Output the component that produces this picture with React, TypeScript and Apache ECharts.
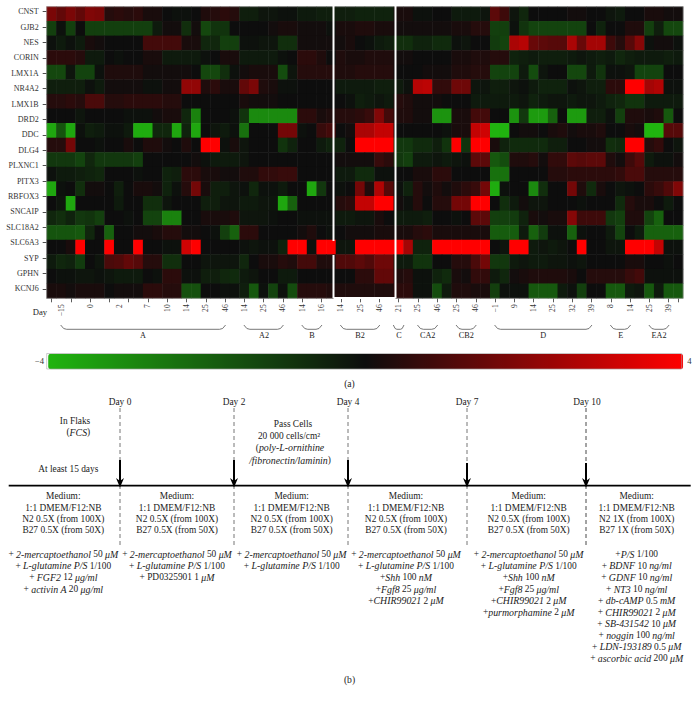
import React, { useEffect, useRef } from "react";
import * as echarts from "echarts";

const SERIF = '"Liberation Serif", serif';

const geneLabels = ["CNST","GJB2","NES","CORIN","LMX1A","NR4A2","LMX1B","DRD2","DDC","DLG4","PLXNC1","PITX3","RBFOX3","SNCAIP","SLC18A2","SLC6A3","SYP","GPHN","KCNJ6"];

const dayAt: Record<number, string> = {1:"−15",4:"0",7:"2",10:"7",12:"10",14:"14",16:"25",18:"46",20:"14",22:"25",24:"46",26:"14",28:"16",30:"14",32:"25",34:"46",36:"21",38:"25",40:"46",42:"25",44:"46",46:"−1",48:"9",50:"14",52:"25",54:"32",56:"39",58:"8",60:"14",62:"25",64:"39"};

const row00 = [1.8,1.4,1.8,1.4,1.9,1.8,.4,.5,.4,.5, .2,.2,0,-.1,-.1,0,.3,.4,.5,.4, -.4,-.4,-.2,-.2,-.1,-.1,-.3,-.3,-.4,-.4, -.4,-.4,-.5,-.5,-.5,-.5,.2,.2,-.1,-.1, 0,0,-.3,-.3,-.3,-.2,1.3,.8,-.2,-.6, 0,0,0,0,.1,.1,0,0,-.2,-.3, 0,0,.2,.2,.1,.1];
const row01 = [-1.2,-.1,-1.2,0,-1.2,-1.2,-1.2,-1.2,-1.2,-1.2, -1.2,-.3,.1,.1,-.8,.1,-1.4,-.9,-.9,0, 0,0,0,.1,.2,.2,.1,.1,.1,-.1, .2,.2,.3,.3,.2,.2,.1,.1,.1,.1, .1,.1,.2,.2,.4,.4,-1.2,-1.2,-.1,-.9, -1.3,-1.3,-1.3,-1.3,-1.3,-1.3,0,-.5,0,0, .3,.3,-1.2,-.4,-1.4,-1.4];
const row02 = [-.1,-.3,-.1,-.3,.2,.1,0,0,0,0, .9,.9,.9,.9,.2,.2,-.6,-.6,-1.2,-1.2, -.1,-.1,-.2,-.2,-.8,-.8,.1,.1,.1,.1, .1,.2,0,-.1,-.3,-.4,-.8,-.8,-.5,-.5, -.7,-.7,-.1,-.2,0,0,-1.1,-1.3,2.6,2.8, 1.5,1.3,1.2,1.2,2.6,1.5,2.5,2.5,.8,.4, 1.2,2,-.1,.1,.1,-.1];
const row03 = [.5,.5,.5,.4,-.3,-.3,0,-.1,0,0, .2,.2,-.3,-.3,-.3,-.3,-.1,0,.2,.2, -.3,-.3,-.3,-.3,-.1,0,.5,.5,.3,0, .3,.2,.2,.3,.3,.3,.1,.1,0,0, 0,0,.2,.2,.3,.3,.4,.4,-.5,-.4, -.3,-.4,-.4,-.4,-.3,-.2,-.3,-.4,-.3,-.6, -.4,-.3,-.3,-.3,-.4,-.3];
const row04 = [-1.4,-1.4,-.2,-1.3,-1.3,-.1,.3,.3,.3,.3, .1,.1,.1,.1,.1,0,-1.4,-1.4,-.8,-.1, .1,.2,.2,.2,-1.5,-.2,.4,.4,.4,.4, .3,.3,.4,.4,.4,.4,0,0,0,.1, .1,.1,.3,.3,.4,.4,-1.3,-1.3,-1.3,-.3, -1.5,-.2,0,0,-1.4,-1.4,-.3,-.9,-.1,-.1, -.2,-1.3,-1.3,-1.3,0,0];
const row05 = [-.4,-.4,-.4,-.4,-.1,-.3,.1,.1,.1,.1, -.1,-.1,.1,.1,2.2,2.2,.3,.5,.2,.2, 1.4,1.8,.3,.2,-.1,-.1,0,0,0,0, -.3,-.3,-.3,-.3,-.4,-.4,-.3,-.1,2.8,2.9, .6,.6,1.6,1.6,-.2,-.2,-.4,-.4,-.2,-.1, -.3,-.5,-.5,-.5,-.1,-.2,-.4,-.4,.5,.5, 4,4,2.5,2.7,-.1,-.1];
const row06 = [.4,.4,.5,.4,1,1,.4,.4,.5,.5, .5,.5,.4,.4,0,0,0,0,0,0, .2,.1,.1,.1,0,0,0,0,0,0, 0,-.1,-.4,-.3,-.2,-.3,.4,.3,.1,.1, .1,0,0,0,-.3,-.3,-.3,-.3,-.3,-.2, -.5,-.3,-.2,-.2,-.3,-.2,-.2,-.3,-.5,-.6, -.9,-.9,-.3,-.3,-.3,-.3];
const row07 = [0,0,0,-.2,0,0,0,0,-.1,-.1, -.1,.1,.2,.2,-.6,-2.8,0,0,0,-.1, -.9,-3,-3,-3,-3,-3,.5,.5,.2,.3, .4,.4,.5,.7,1.9,.9,.3,.3,.1,.1, -3.2,-3.2,.2,.2,.9,.9,0,0,-3.2,-1, -3.4,-3.4,-2,0,-3.4,-3.4,-.4,-.4,-.1,-1.2, .3,.3,.2,.3,-1.8,0];
const row08 = [-3.7,-1.7,-3.7,-.1,-.4,-.3,-.1,-.1,-.3,-3.8, -3.8,-.6,-.6,-3.7,-.5,-3.7,0,-.2,-.3,-.1, -2.4,0,0,0,1.7,1.7,-.1,0,.7,.9, 0,.1,2.6,2.6,3,3,0,0,0,0, 0,-.1,.2,.2,3,3.2,-4,-4,0,.1, .1,0,.2,.3,.1,.2,.2,.3,0,0, .2,.1,-4,-4,1.2,1.2];
const row09 = [.4,.4,1.7,0,0,-.1,0,0,.2,0, .3,.3,.1,0,.3,0,4,4,-.1,.2, -.2,0,0,0,-.9,-.5,0,0,-.3,-.5, -.5,0,4,4,4,4,-1,-1,-.7,-.7, -.4,-.9,4,-.9,4,4,.2,-.5,-.7,-.7, -.7,-.7,-.4,-.4,0,0,.1,.1,-.8,-.7, 4,4,.4,.6,0,-.2];
const row10 = [-1,-1,-1,-1.3,-.6,-1,-1,-1,-1,-1.2, 0,0,0,0,0,.1,-.1,-.3,-.3,-.3, -.2,0,0,0,0,0,0,0,0,0, .1,.1,.1,.1,.7,.5,-1,-1.2,-.3,-.3, -.2,-.3,-.2,-.1,1.3,1.3,-1.8,-1.5,.3,.3, .4,.1,.6,.6,1.3,1.2,1.3,1.3,.3,.1, .8,1.2,-.3,-.1,-.1,.1];
const row11 = [-.1,-.3,-.3,-.4,-.5,-.6,0,0,0,-.1, 0,0,-.5,-.4,.5,.5,.2,.2,.1,.1, .3,.3,.6,.6,.7,.7,0,0,0,0, -.3,-.3,-.7,-.7,-.1,-.1,0,0,.2,.2, .5,.5,0,0,0,0,-2.4,-2.4,0,0, 0,0,.4,.4,.5,.5,.5,.5,.5,.6, 1,1,.4,.4,.4,.4];
const row12 = [-3.7,-.1,0,-.8,.1,.1,0,-.4,0,.2, .2,.1,-.5,-.1,.4,1.7,.2,-.4,-.4,-.2, -.1,-.6,-.1,-.1,-.3,0,0,-3.7,-1,0, -.1,0,1.7,.3,2.7,1.2,-.1,-.5,.4,.1, .3,.1,.3,.5,.7,1.7,-3.8,-.1,0,0, -3,-.8,0,0,1.7,.3,-.7,.2,0,-.2, -.1,0,.5,.7,1.1,1.9];
const row13 = [0,-.2,-3.7,0,0,0,0,-.3,0,0, -.8,-.8,-.2,0,0,0,-.4,-.4,-.2,-.2, -.3,-.3,-.2,-.2,-3.7,-2,0,0,0,0, .4,.5,3,3,4,4,.1,-.1,.4,0, .4,.4,1.7,1.7,4,4,0,-.8,-.3,.1, -.2,-.2,0,0,0,-.1,0,0,0,-.7, .4,.2,.2,0,-.3,0];
const row14 = [-.6,-.8,-.5,-1,-.9,-1.2,0,0,-.1,0, -1.3,-1.3,-2.8,-2.8,0,0,.2,.2,.2,.3, -.2,-.2,-.2,-.1,0,0,-.1,-.1,-.1,-.1, -.3,-.3,-.2,-.2,.2,0,-.3,-.3,-.3,-.4, 0,0,-.1,0,1.3,1.3,-1.2,-1.2,-1.1,-.5, .2,.1,.2,.2,2,.8,.8,.8,-1,-1.2, .3,.3,-1.3,-2,0,0];
const row15 = [-1.7,-1.7,-1.7,-1.8,-.6,0,-2,0,0,.1, .1,.2,.4,.4,.1,.1,0,-.1,-1.2,-2, .5,.5,0,0,0,0,.1,.3,0,-.1, 0,.1,.1,.1,.2,.2,.2,.2,.4,.5, .2,.2,.2,.2,.2,.2,-1.9,-1.9,-1.9,-.3, -2,-1.1,-.1,-.1,-2,-.1,0,0,-.3,-1.3, 0,-.3,-2,-2,-2,-2];
const row16 = [0,0,.2,4,0,0,4,0,0,4, 0,0,-.1,-.1,3.2,4,0,0,0,0, -.1,-.2,-.1,-.1,-.5,4,4,-.1,4,4, -.2,-.2,4,4,4,4,4,2.5,-.5,-.5, 4,4,4,4,4,4,0,-.2,4,4, -.3,-.2,-.3,-.2,0,4,0,0,-.2,-.2, 4,4,4,3,-.1,-.1];
const row17 = [-.3,-.6,-.5,-1.1,0,-.2,1,1.1,1.4,1.2, .4,.4,-.8,-.8,0,0,-.2,-.2,-.2,-.2, -.6,0,.2,.2,.4,.3,.9,.9,.3,.3, 1.1,1.1,1.3,1.1,1.6,1.6,-.3,-.3,-.9,-.9, 0,0,.4,.4,1,1.7,-1,-1,-.3,-.2, -.3,-.3,-.2,-.2,-.1,-.2,0,0,0,0, .2,.2,0,0,-.1,0];
const row18 = [0,-.1,-.1,-.2,-.2,-.1,-.2,-.3,-.3,-.3, 0,-.1,.5,.5,-.1,-.1,-.4,-.4,-.6,-.7, -.3,-.2,0,0,-.3,-.3,0,0,0,0, 0,0,.5,.5,1.4,1.4,.3,.4,-.1,-.1, -.5,-.7,.2,.1,.6,.6,-.3,-.6,.1,.2, .3,.3,.3,.3,.2,0,.4,.4,.4,.4, .7,.9,-.1,-.1,-.1,-.1];
const row19 = [.2,.2,.1,.2,.2,.2,0,.1,.1,.1, .5,.5,.4,.4,-1.6,-1.6,0,0,-.1,-.1, -.4,-1.8,-.1,-1.3,-.1,-1.5,.4,.4,.4,.3, .3,.3,.3,.3,.3,.3,.5,.5,-.1,-.1, -1.5,-.3,.3,.3,.2,.2,-1.2,-.1,-.1,-.1, -1.8,-1.8,-1.8,-.3,-.1,-1.2,0,0,-1.8,-1.8, -.3,-.2,-1.8,-.3,-1.8,-1.8];

const heatRows = [row00,row01,row02,row03,row04,row05,row06,row07,row08,row09,row10,row11,row12,row13,row14,row15,row16,row17,row18,row19];

const groupNames = ["A","A2","B","B2","C","CA2","CB2","D","E","EA2"];
const groupStart = [1,20,26,30,35.5,38,42,46,58,62];
const groupEnd = [18,24,28,34,36.5,40,44,56,60,64];
const groupLabelX = [143,264,312,360,399,427.7,466.3,543.3,620.7,659];

const timelineDays = ["Day 0","Day 2","Day 4","Day 7","Day 10"];
const timelineX = [120,234,348,467,586];
const arrowTop = [460,460,460,463,463];

const mediumX = [63.3,177,291.7,406,528.7,636.7];
const mediumLines = [
  ["Medium:","1:1 DMEM/F12:NB","N2 0.5X (from 100X)","B27 0.5X (from 50X)"],
  ["Medium:","1:1 DMEM/F12:NB","N2 0.5X (from 100X)","B27 0.5X (from 50X)"],
  ["Medium:","1:1 DMEM/F12:NB","N2 0.5X (from 100X)","B27 0.5X (from 50X)"],
  ["Medium:","1:1 DMEM/F12:NB","N2 0.5X (from 100X)","B27 0.5X (from 50X)"],
  ["Medium:","1:1 DMEM/F12:NB","N2 0.5X (from 100X)","B27 0.5X (from 50X)"],
  ["Medium:","1:1 DMEM/F12:NB","N2 1X (from 100X)","B27 1X (from 50X)"],
];
const M = "{i|2-mercaptoethanol} 50 {i|μM}";
const LG = "{i|L-glutamine P/S} 1/100";
const additives = [
  ["+ "+M,"+ "+LG,"+ {i|FGF2} 12 {i|μg/ml}","+ {i|activin A} 20 {i|μg/ml}"],
  ["+ "+M,"+ "+LG,"+ PD0325901 1 {i|μM}"],
  ["+ "+M,"+ "+LG],
  ["+ "+M,"+ "+LG,"+{i|Shh} 100 {i|nM}","+{i|Fgf8} 25 {i|μg/ml}","+{i|CHIR99021} 2 {i|μM}"],
  ["+ "+M,"+ "+LG,"+{i|Shh} 100 {i|nM}","+{i|Fgf8} 25 {i|μg/ml}","+{i|CHIR99021} 2 {i|μM}","+{i|purmorphamine} 2 {i|μM}"],
  ["+{i|P/S} 1/100","+ {i|BDNF} 10 {i|ng/ml}","+ {i|GDNF} 10 {i|ng/ml}","+ {i|NT3} 10 {i|ng/ml}","+ {i|db-cAMP} 0.5 {i|mM}","+ {i|CHIR99021} 2 {i|μM}","+ {i|SB-431542} 10 {i|μM}","+ {i|noggin} 100 {i|ng/ml}","+ {i|LDN-193189} 0.5 {i|μM}","+ {i|ascorbic acid} 200 {i|μM}"],
];

const GRID = { left: 46.7, top: 6.7, width: 636.4, height: 291.6 };

function txt(x: number, y: number, text: string, size = 9.4, extra: any = {}) {
  return {
    type: "text", x, y, silent: true, z: 20,
    style: {
      text, fill: "#222", align: "center", verticalAlign: "middle",
      fontFamily: SERIF, fontSize: size,
      rich: { i: { fontStyle: "italic", fontFamily: SERIF, fontSize: size + 0.5, fill: "#222" } },
      ...extra,
    },
  };
}
const ln = (x1: number, y1: number, x2: number, y2: number, stroke: string, lineWidth: number, lineDash?: number[]) => ({
  type: "line", silent: true, z: 15, shape: { x1, y1, x2, y2 }, style: { stroke, lineWidth, lineDash },
});

function buildGraphics() {
  const out: any[] = [];
  const cell = GRID.width / 66;
  const cx = (k: number) => GRID.left + cell * (k + 0.5);

  // frame of heatmap and legend
  out.push({ type: "rect", silent: true, z: 14, shape: { x: GRID.left, y: GRID.top, width: GRID.width, height: GRID.height }, style: { fill: "none", stroke: "#9a9a9a", lineWidth: 0.6 } });
  out.push({ type: "rect", silent: true, z: 14, shape: { x: 46.7, y: 353.5, width: 635, height: 15.5 }, style: { fill: "none", stroke: "#aaa", lineWidth: 0.6 } });

  // white box around B2
  const wl = 333.5, wr = 395.5, wt = 5, wb = 298;
  out.push(ln(wl, wt, wr, wt, "#fff", 2), ln(wr, wt, wr, wb, "#fff", 2), ln(wl, wb, wr, wb, "#fff", 2));
  out.push(ln(wl, wt, wl, 241, "#fff", 2), ln(wl, 255, wl, wb, "#fff", 2));

  out.push(txt(40, 312, "Day", 8.6));

  groupNames.forEach((name, i) => {
    const a = cx(groupStart[i]) - 0.5, b = cx(groupEnd[i]) + 0.5;
    const m = Math.min(6, (b - a) / 3);
    out.push({
      type: "polyline", silent: true, z: 15,
      shape: { points: [[a, 325], [a + m / 2, 328.5], [a + m, 329.3], [b - m, 329.3], [b - m / 2, 328.5], [b, 325]] },
      style: { stroke: "#555", lineWidth: 0.8, fill: "none" },
    });
    out.push(txt(groupLabelX[i], 335.5, name, 8.2));
  });

  out.push(txt(349.5, 383, "(a)", 9.6), txt(349.5, 679, "(b)", 9.6));

  // timeline
  timelineDays.forEach((d, i) => {
    const x = timelineX[i];
    out.push(txt(x + (i === 4 ? 1 : 0), 401.7, d));
    out.push(ln(x, 408, x, 547, i === 4 ? "#333" : "#666", 0.9, [4, 3]));
    out.push(ln(x, arrowTop[i], x, 482, "#000", 2));
    out.push({ type: "polygon", silent: true, z: 16, shape: { points: [[x - 4, 478], [x, 481], [x + 4, 478], [x, 487.5]] }, style: { fill: "#000" } });
  });
  out.push(ln(8.7, 485.7, 690.7, 485.7, "#000", 1.8));

  out.push(txt(75, 421, "In Flaks"), txt(78.3, 432.3, "({i|FCS})"), txt(68.3, 469, "At least 15 days"));
  out.push(txt(293, 424.3, "Pass Cells"), txt(289, 436, "20 000 cells/cm²"), txt(290, 447.7, "({i|poly-L-ornithine}"), txt(290, 460, "{i|/fibronectin/laminin})"));

  const medY = [496, 507.5, 519, 530];
  const addY = [554, 565.5, 577, 589, 600.5, 612, 623.5, 635, 646.7, 658.3];
  mediumX.forEach((x, i) => {
    mediumLines[i].forEach((t, j) => out.push(txt(x, medY[j], t)));
    additives[i].forEach((t, j) => out.push(txt(x, addY[j], t)));
  });
  return out;
}

export default function App() {
  const ref = useRef<HTMLDivElement>(null);
  useEffect(() => {
    const chart = echarts.init(ref.current!, undefined, { renderer: "svg" });
    const data: number[][] = [];
    heatRows.forEach((r, y) => r.forEach((v, x) => data.push([x, y, v])));
    const columns = Array.from({ length: 66 }, (_, k) => dayAt[k] ?? "");
    const rowIds = heatRows.map((_, i) => "r" + i);
    chart.setOption({
      animation: false,
      backgroundColor: "#fff",
      grid: [
        { ...GRID },
        { left: GRID.left, top: 4, width: GRID.width, height: 292.6 },
      ],
      xAxis: [
        {
          type: "category", gridIndex: 0, data: columns,
          axisLine: { show: false },
          axisTick: { show: true, alignWithLabel: true, interval: 1, length: 4, lineStyle: { color: "#333", width: 0.8 } },
          axisLabel: { interval: 0, rotate: 90, margin: 6, fontFamily: SERIF, fontSize: 7.6, color: "#333" },
          splitLine: { show: false },
        },
        { type: "category", gridIndex: 1, show: false, data: columns },
      ],
      yAxis: [
        { type: "category", gridIndex: 0, inverse: true, data: rowIds, axisLabel: { show: false }, axisTick: { show: false }, axisLine: { show: false }, splitLine: { show: false } },
        {
          type: "category", gridIndex: 1, inverse: true, data: geneLabels,
          axisLine: { show: false },
          axisTick: { show: true, alignWithLabel: true, length: 4, lineStyle: { color: "#222", width: 0.8 } },
          axisLabel: { interval: 0, margin: 8, fontFamily: SERIF, fontSize: 8, color: "#333" },
          splitLine: { show: false },
        },
      ],
      visualMap: {
        type: "continuous", min: -4, max: 4, seriesIndex: 0, calculable: false,
        orient: "horizontal", left: 20, top: 338.7, itemWidth: 15.5, itemHeight: 635,
        text: ["4", "−4"], textGap: 4,
        textStyle: { fontFamily: SERIF, fontSize: 8.6, color: "#333" },
        inRange: { color: ["#20b40f", "#0d0d0d", "#ff0000"] },
        hoverLink: false,
      },
      series: [{
        type: "heatmap", xAxisIndex: 0, yAxisIndex: 0, data,
        itemStyle: { borderWidth: 0 }, emphasis: { disabled: true }, progressive: 0,
      }],
      graphic: { elements: buildGraphics() },
    });
    return () => chart.dispose();
  }, []);
  return <div ref={ref} style={{ position: "absolute", left: 0, top: 0, width: 698, height: 701 }} />;
}
